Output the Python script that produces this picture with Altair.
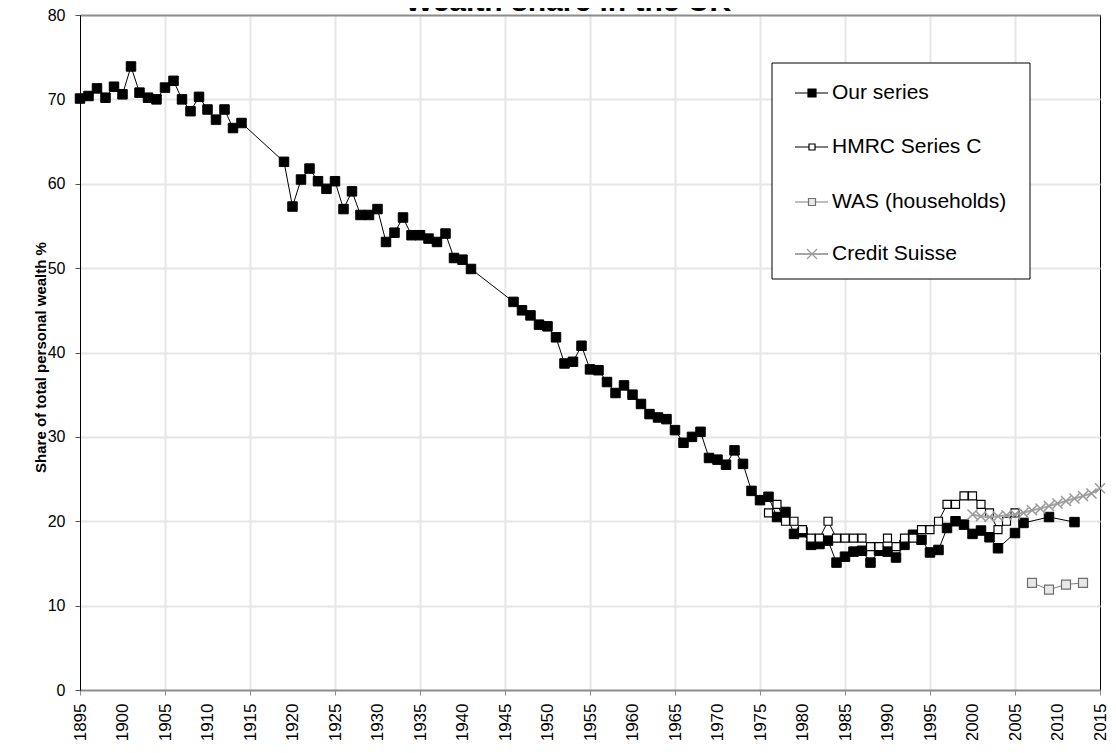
import altair as alt
import pandas as pd

FONT = "Liberation Sans"
TITLE = "Wealth share in the UK"
Y_TITLE = "Share of total personal wealth %"
SERIES = ["Our series", "HMRC Series C", "WAS (households)", "Credit Suisse"]

our_years = (list(range(1895, 1915)) + list(range(1919, 1942)) + list(range(1946, 2004))
             + [2005, 2006, 2009, 2012])
our_values = [
    70.1, 70.4, 71.3, 70.2, 71.5, 70.6, 73.9, 70.8, 70.2, 70.0,
    71.4, 72.2, 70.0, 68.6, 70.3, 68.8, 67.6, 68.8, 66.6, 67.2,
    62.6, 57.3, 60.5, 61.8, 60.3, 59.4, 60.3, 57.0, 59.1, 56.3,
    56.3, 57.0, 53.1, 54.2, 56.0, 53.9, 53.9, 53.5, 53.1, 54.1,
    51.2, 51.0, 49.9,
    46.0, 45.0, 44.4, 43.3, 43.1, 41.8, 38.7, 38.9, 40.8, 38.0,
    37.9, 36.5, 35.2, 36.1, 35.0, 33.9, 32.7, 32.3, 32.1, 30.8,
    29.3, 30.0, 30.6, 27.5, 27.3, 26.7, 28.4, 26.8, 23.6, 22.5,
    22.9, 20.5, 21.1, 18.5, 18.7, 17.2, 17.3, 17.7, 15.1, 15.8,
    16.4, 16.5, 15.1, 16.5, 16.4, 15.7, 17.2, 18.4, 17.8, 16.3,
    16.6, 19.2, 20.0, 19.6, 18.5, 18.9, 18.1, 16.8,
    18.6, 19.8, 20.5, 19.9,
]
hmrc_years = list(range(1976, 2006))
hmrc_values = [21, 22, 20, 20, 19, 18, 18, 20, 18, 18, 18, 18, 17, 17, 18,
               17, 18, 18, 19, 19, 20, 22, 22, 23, 23, 22, 21, 19, 20, 21]
was_years = [2007, 2009, 2011, 2013]
was_values = [12.7, 11.9, 12.5, 12.7]
cs_years = list(range(2000, 2016))
cs_values = [20.8, 20.6, 20.5, 20.6, 20.7, 20.8, 21.0, 21.3, 21.5, 21.8,
             22.1, 22.4, 22.7, 23.0, 23.3, 23.9]

x_ticks = list(range(1895, 2016, 5))
y_ticks = list(range(0, 81, 10))

our_df = pd.DataFrame({"year": our_years, "value": our_values})
hmrc_df = pd.DataFrame({"year": hmrc_years, "value": hmrc_values})
was_df = pd.DataFrame({"year": was_years, "value": was_values})
cs_df = pd.DataFrame({"year": cs_years, "value": cs_values})

XSHAPE = "M-1,-1L1,1M-1,1L1,-1"

x_axis = alt.Axis(
    values=x_ticks, format="d", labelAngle=270, labelAlign="right",
    labelBaseline="middle", labelFontSize=17, labelFont=FONT, labelColor="black",
    labelPadding=8, labelOverlap=False, tickSize=5,
    tickColor={"condition": {"test": "datum.value % 10 == 5", "value": "#8c8c8c"},
               "value": "transparent"},
    grid=True,
    gridColor={"condition": {"test": "datum.value % 10 == 5 && datum.value > 1895 && datum.value < 2015",
                             "value": "#e6e6e6"}, "value": "transparent"},
    gridWidth=2, domain=False, title=None,
)
y_axis = alt.Axis(
    values=y_ticks, labelFontSize=16, labelFont=FONT, labelColor="black",
    labelPadding=10, tickSize=5, tickColor="#555555",
    domainColor="black", domainWidth=1,
    grid=True,
    gridColor={"condition": {"test": "datum.value == 0 || datum.value == 80", "value": "#8c8c8c"},
               "value": "#e6e6e6"},
    gridWidth=2,
    title=Y_TITLE, titleFontSize=15, titleFontWeight="bold", titleFont=FONT,
    titleColor="black", titleX=-40, titleY=342, titleAngle=270,
    titleAlign="center", titleBaseline="middle",
)

X = alt.X("year:Q", scale=alt.Scale(domain=[1895, 2015], nice=False, zero=False), axis=x_axis)
Y = alt.Y("value:Q", scale=alt.Scale(domain=[0, 80], nice=False), axis=y_axis)
Xn = alt.X("year:Q")
Yn = alt.Y("value:Q")

our_line = alt.Chart(our_df).mark_line(color="black", strokeWidth=1).encode(x=X, y=Y)
our_pts = alt.Chart(our_df).mark_point(shape="square", filled=True, fill="black", stroke="black",
                                        strokeWidth=1, size=90, opacity=1).encode(x=Xn, y=Yn)
hmrc_line = alt.Chart(hmrc_df).mark_line(color="black", strokeWidth=1).encode(x=Xn, y=Yn)
hmrc_pts = alt.Chart(hmrc_df).mark_point(shape="square", filled=True, fill="white", stroke="black",
                                          strokeWidth=1.2, size=64, opacity=1).encode(x=Xn, y=Yn)
was_line = alt.Chart(was_df).mark_line(color="#7f7f7f", strokeWidth=1).encode(x=Xn, y=Yn)
was_pts = alt.Chart(was_df).mark_point(shape="square", filled=True, fill="#e8e8e8", stroke="#6f6f6f",
                                        strokeWidth=1.2, size=81, opacity=1).encode(x=Xn, y=Yn)
cs_line = alt.Chart(cs_df).mark_line(color="#a6a6a6", strokeWidth=2).encode(x=Xn, y=Yn)
cs_pts = alt.Chart(cs_df).mark_point(shape=XSHAPE, filled=False, stroke="#999999",
                                      strokeWidth=1.5, size=100, opacity=1).encode(x=Xn, y=Yn)

# title (cropped at the top edge, as in the reference)
title_layer = alt.Chart(pd.DataFrame({"t": [TITLE]})).mark_text(
    font=FONT, fontSize=30, fontWeight="bold", color="black", align="center",
    baseline="alphabetic").encode(x=alt.value(488), y=alt.value(-4), text="t:N")

# legend box
legend_box = alt.Chart(pd.DataFrame({"a": [0]})).mark_rect(
    fill="white", stroke="black", strokeWidth=1).encode(
    x=alt.value(692), x2=alt.value(950), y=alt.value(48), y2=alt.value(264))

legend_rows = [78, 132, 187, 239]
styles = [
    dict(line="black", lw=1, shape="square", filled=True, fill="black", stroke="black", size=64),
    dict(line="black", lw=1, shape="square", filled=True, fill="white", stroke="black", size=36),
    dict(line="#7f7f7f", lw=1, shape="square", filled=True, fill="#e8e8e8", stroke="#6f6f6f", size=49),
    dict(line="#a6a6a6", lw=2, shape=XSHAPE, filled=False, fill="none", stroke="#999999", size=100),
]
legend_layers = []
for name, yy, st in zip(SERIES, legend_rows, styles):
    d = pd.DataFrame({"name": [name]})
    legend_layers.append(alt.Chart(d).mark_rule(color=st["line"], strokeWidth=st["lw"]).encode(
        x=alt.value(715), x2=alt.value(748), y=alt.value(yy)))
    pkw = dict(shape=st["shape"], filled=st["filled"], stroke=st["stroke"], strokeWidth=1.2,
               size=st["size"], opacity=1)
    if st["filled"]:
        pkw["fill"] = st["fill"]
    legend_layers.append(alt.Chart(d).mark_point(**pkw).encode(x=alt.value(732), y=alt.value(yy)))
    legend_layers.append(alt.Chart(d).mark_text(font=FONT, fontSize=21, align="left",
                                                baseline="middle", color="black").encode(
        x=alt.value(752), y=alt.value(yy), text="name:N"))

chart = alt.layer(
    our_line, our_pts, hmrc_line, hmrc_pts, was_line, was_pts, cs_line, cs_pts,
    legend_box, *legend_layers, title_layer,
).properties(
    width=1020, height=675,
    autosize=alt.AutoSizeParams(type="none"),
    padding={"left": 72, "top": 7, "right": 8, "bottom": 50},
).configure_view(stroke="black", strokeWidth=1)

chart.save("out.html", embed_options={"renderer": "svg", "actions": False})
